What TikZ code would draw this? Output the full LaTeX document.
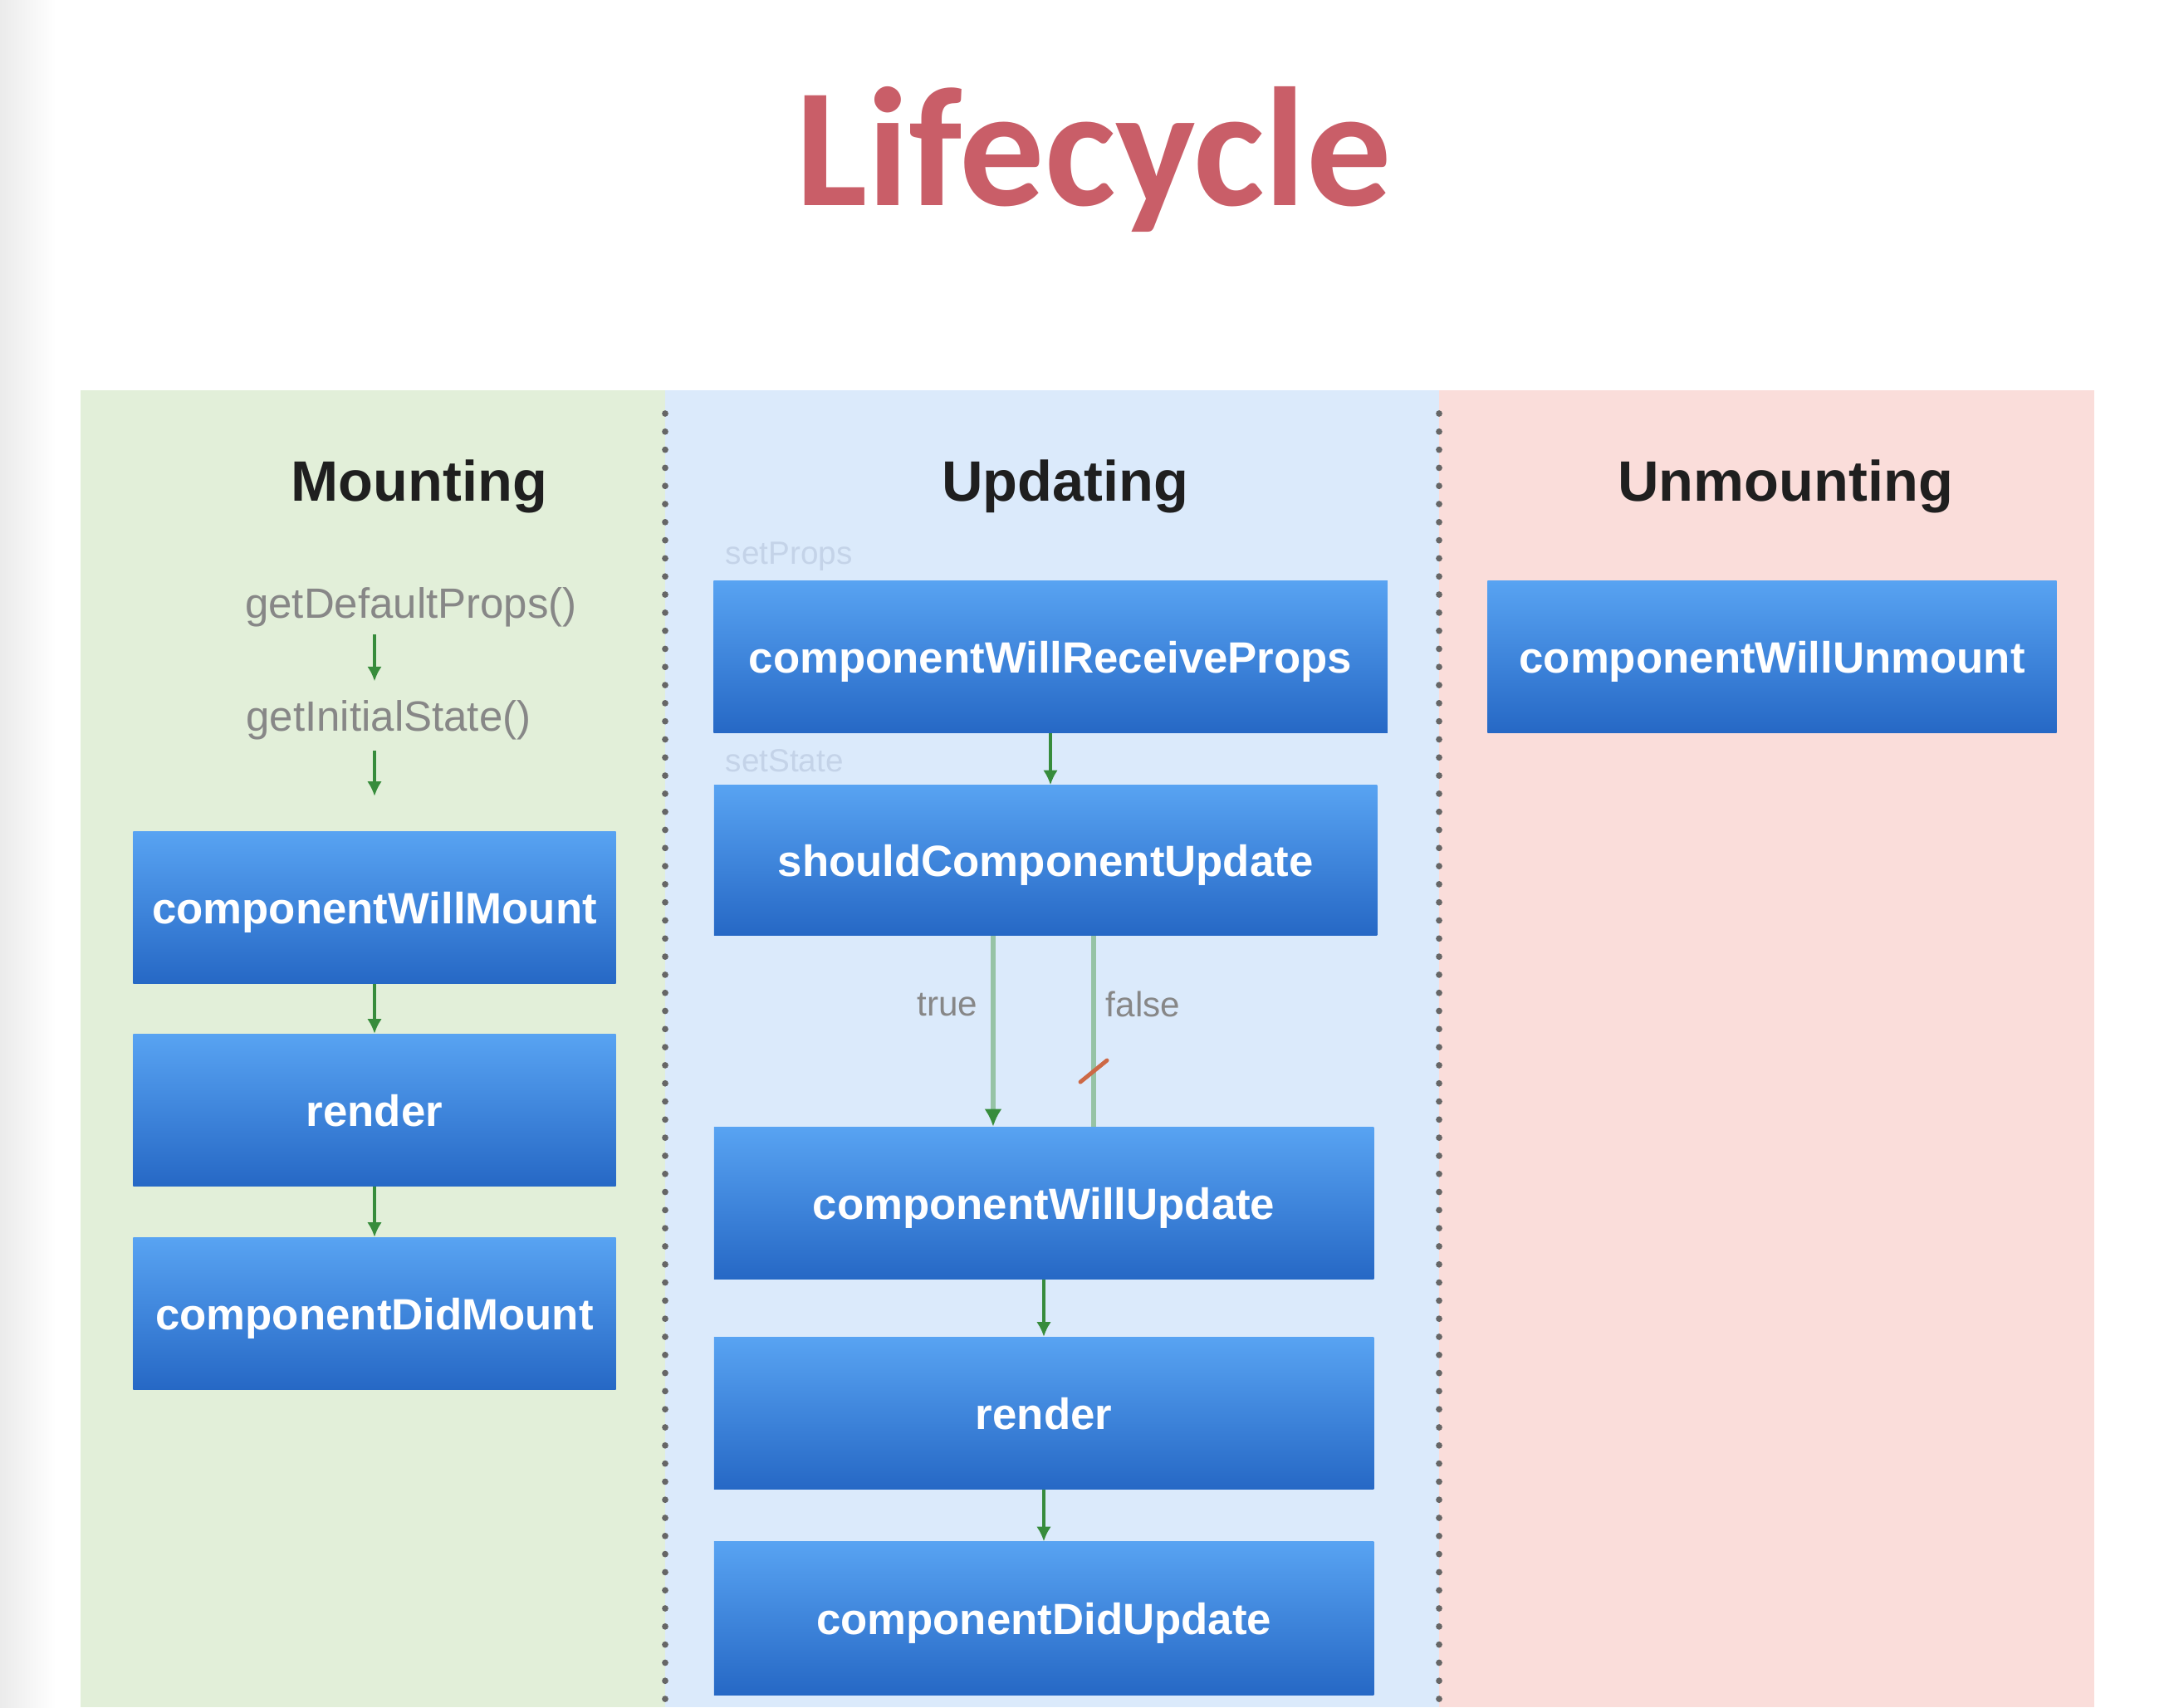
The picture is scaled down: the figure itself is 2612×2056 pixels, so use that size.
\documentclass[tikz,border=0pt]{standalone}
\usepackage{fontspec}
\setmainfont{Liberation Sans}
\newfontfamily\titlefont{Carlito}
\usetikzlibrary{arrows.meta}

\definecolor{titlered}{RGB}{201,94,104}
\definecolor{mountbg}{RGB}{226,239,217}
\definecolor{updatebg}{RGB}{219,234,251}
\definecolor{unmountbg}{RGB}{250,221,218}
\definecolor{boxtop}{RGB}{88,163,242}
\definecolor{boxbottom}{RGB}{38,104,197}
\definecolor{flowgreen}{RGB}{55,140,60}
\definecolor{palegreen}{RGB}{150,195,165}
\definecolor{labelgrey}{RGB}{135,135,135}
\definecolor{faintgrey}{RGB}{196,211,232}
\definecolor{cutred}{RGB}{205,105,70}

\tikzset{
  phase/.style={font=\bfseries\fontsize{19.5}{22}\selectfont, text=black!88, anchor=base, inner sep=0},
  method/.style={rectangle, top color=boxtop, bottom color=boxbottom, minimum height=1.83cm,
    text=white, font=\bfseries\fontsize{15}{18}\selectfont, text height=10.8pt, text depth=0pt, inner sep=0},
  hook/.style={font=\fontsize{14.5}{17}\selectfont, text=labelgrey, anchor=base, inner sep=0},
  hint/.style={font=\fontsize{11}{13}\selectfont, text=faintgrey, anchor=base west, inner sep=0},
  branch/.style={font=\fontsize{12}{14}\selectfont, text=labelgrey, inner sep=0},
  flow/.style={draw=flowgreen, line width=0.9pt, -{Latex[length=5pt,width=5pt]}},
  decision/.style={draw=palegreen, line width=1.6pt},
  cutmark/.style={draw=cutred, line width=1.4pt, line cap=round},
  divider/.style={draw=black!60, line width=2.2pt, line cap=round, dash pattern=on 0pt off 6.2pt},
}

\begin{document}
\begin{tikzpicture}[x=0.01cm, y=-0.01cm]
        \useasboundingbox (0,0) rectangle (2612,2056);
        \fill[white] (0,0) rectangle (2612,2056);
        \shade[left color=black!8, right color=white] (0,0) rectangle (67,2056);
        \node[font=\titlefont\bfseries\fontsize{58}{60}\selectfont, text=titlered, anchor=base, inner sep=0] (title) at (1317,247) {Lifecycle};

        \fill[mountbg] (97,470) rectangle (801,2056);
        \fill[updatebg] (801,470) rectangle (1733,2056);
        \fill[unmountbg] (1733,470) rectangle (2522,2056);
        \draw[divider] (801,498) -- (801,2056);
        \draw[divider] (1733,498) -- (1733,2056);

        \node[phase] (mounting) at (505,603) {Mounting};
        \node[phase] (updating) at (1283,603) {Updating};
        \node[phase] (unmounting) at (2150,603) {Unmounting};

        % mounting
        \node[hook] (defaultprops) at (495,744) {getDefaultProps()};
        \node[hook] (initialstate) at (468,880) {getInitialState()};
        \node[method, minimum width=5.81cm] (willmount) at (451,1093) {componentWillMount};
        \node[method, minimum width=5.81cm] (mountrender) at (451,1337) {render};
        \node[method, minimum width=5.81cm] (didmount) at (451,1582) {componentDidMount};
        \draw[flow, shorten <=0.09cm, shorten >=0.22cm] (defaultprops.south -| willmount.north) -- (initialstate.north -| willmount.north);
        \draw[flow, shorten <=0.13cm, shorten >=0.42cm] (initialstate.south -| willmount.north) -- (willmount.north);
        \draw[flow] (willmount) -- (mountrender);
        \draw[flow] (mountrender) -- (didmount);

        % updating
        \node[hint] (setprops) at (873,679) {setProps};
        \node[method, minimum width=8.11cm] (receiveprops) at (1265,791) {componentWillReceiveProps};
        \node[hint] (setstate) at (873,929) {setState};
        \node[method, minimum width=7.98cm, minimum height=1.80cm] (shouldupdate) at (1259,1036) {shouldComponentUpdate};
        \node[method, minimum width=7.94cm] (willupdate) at (1257,1449) {componentWillUpdate};
        \node[method, minimum width=7.94cm] (updaterender) at (1257,1702) {render};
        \node[method, minimum width=7.94cm, minimum height=1.84cm] (didupdate) at (1257,1949) {componentDidUpdate};
        \draw[flow] (receiveprops) -- (receiveprops |- shouldupdate.north);
        \draw[decision, -{Latex[color=flowgreen,length=6pt,width=6pt]}] ([xshift=-0.63cm]shouldupdate.south) -- ([xshift=-0.63cm]shouldupdate.south |- willupdate.north)
            node[branch, pos=0.36, left=0.16cm] (truelabel) {true};
        \draw[decision] ([xshift=0.58cm]shouldupdate.south) -- ([xshift=0.58cm]shouldupdate.south |- willupdate.north)
            node[branch, pos=0.36, right=0.12cm] (falselabel) {false}
            coordinate[pos=0.71] (cut);
        \draw[cutmark] ([shift={(-0.16cm,-0.13cm)}]cut) -- ([shift={(0.16cm,0.13cm)}]cut);
        \draw[flow] (willupdate) -- (updaterender);
        \draw[flow] (updaterender) -- (didupdate);

        % unmounting
        \node[method, minimum width=6.85cm] (willunmount) at (2134,791) {componentWillUnmount};
    \end{tikzpicture}
\end{document}
